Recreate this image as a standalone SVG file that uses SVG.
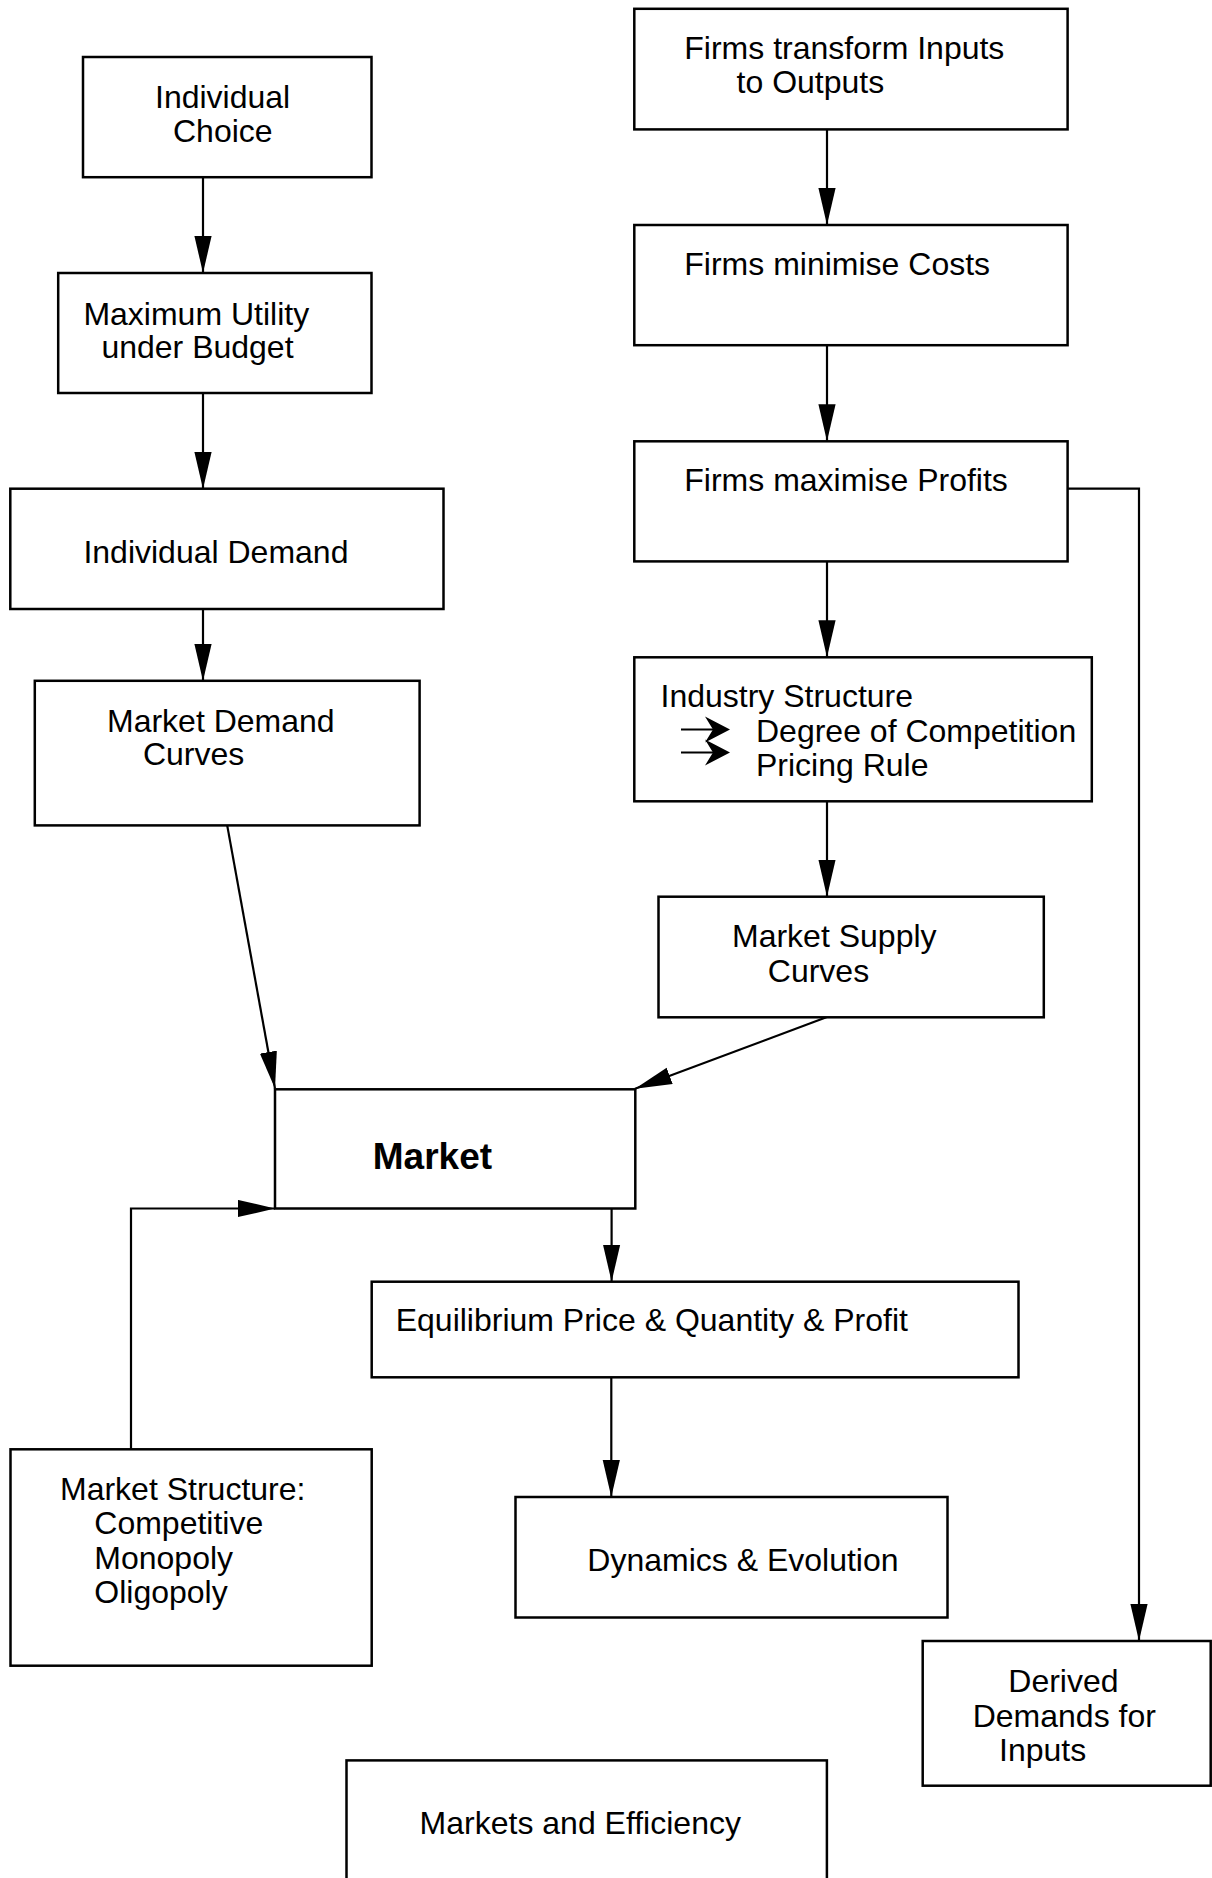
<svg xmlns="http://www.w3.org/2000/svg" width="1212" height="1878" viewBox="0 0 1212 1878">
<style>
.box{fill:#fff;stroke:#000;stroke-width:2.5}
.t{font-family:"Liberation Sans",Arial,sans-serif;font-size:32px;fill:#000}
.b{font-family:"Liberation Sans",Arial,sans-serif;font-size:37px;font-weight:bold;fill:#000}
.c{fill:none;stroke:#000;stroke-width:2.2}
</style>
<defs>
<marker id="ah" markerUnits="userSpaceOnUse" markerWidth="38" markerHeight="18" viewBox="0 0 38 18" refX="37" refY="9" orient="auto">
<path d="M0,0.4 L37,9 L0,17.6 z" fill="#000"/>
</marker>
</defs>
<rect width="1212" height="1878" fill="#fff"/>
<g id="connectors">
<path class="c" marker-end="url(#ah)" d="M203,177 V273"/>
<path class="c" marker-end="url(#ah)" d="M203,393 V489"/>
<path class="c" marker-end="url(#ah)" d="M203,609 V681"/>
<path class="c" marker-end="url(#ah)" d="M227.2,825.4 L275,1088.5"/>
<path class="c" marker-end="url(#ah)" d="M826.4,1017.3 L635,1088.8"/>
<path class="c" marker-end="url(#ah)" d="M131,1449 V1208.5 H275"/>
<path class="c" marker-end="url(#ah)" d="M611.6,1208.5 V1281.7"/>
<path class="c" marker-end="url(#ah)" d="M611.3,1377 V1497"/>
<path class="c" marker-end="url(#ah)" d="M827,129.4 V225"/>
<path class="c" marker-end="url(#ah)" d="M827,345.2 V441.3"/>
<path class="c" marker-end="url(#ah)" d="M827,561.4 V657.3"/>
<path class="c" marker-end="url(#ah)" d="M827,801.3 V896.7"/>
<path class="c" marker-end="url(#ah)" d="M1068,488.7 H1139 V1641"/>
</g>
<g id="individual-choice">
<rect class="box" x="83" y="57" width="288.5" height="120.2"/>
<text class="t" x="155" y="108">Individual</text>
<text class="t" x="173" y="141.6">Choice</text>
</g>
<g id="max-utility">
<rect class="box" x="58.2" y="273" width="313.3" height="120"/>
<text class="t" x="83.4" y="324.5">Maximum Utility</text>
<text class="t" x="101.4" y="357.8">under Budget</text>
</g>
<g id="individual-demand">
<rect class="box" x="10.3" y="488.7" width="433.2" height="120.3"/>
<text class="t" x="83.4" y="563.3">Individual Demand</text>
</g>
<g id="market-demand">
<rect class="box" x="34.8" y="680.8" width="384.8" height="144.6"/>
<text class="t" x="107" y="731.7">Market Demand</text>
<text class="t" x="142.9" y="765.2">Curves</text>
</g>
<g id="firms-transform">
<rect class="box" x="634.3" y="8.8" width="433.3" height="120.6"/>
<text class="t" x="684.3" y="59.3">Firms transform Inputs</text>
<text class="t" x="736.6" y="93">to Outputs</text>
</g>
<g id="firms-minimise">
<rect class="box" x="634.3" y="225" width="433.3" height="120.2"/>
<text class="t" x="684.3" y="274.8">Firms minimise Costs</text>
</g>
<g id="firms-maximise">
<rect class="box" x="634.3" y="441.3" width="433.3" height="120.1"/>
<text class="t" x="684.3" y="491">Firms maximise Profits</text>
</g>
<g id="industry-structure">
<rect class="box" x="634.3" y="657.3" width="457.5" height="144"/>
<text class="t" x="660.5" y="707.3">Industry Structure</text>
<text class="t" x="756" y="741.7">Degree of Competition</text>
<text class="t" x="756" y="775.7">Pricing Rule</text>
<path d="M681,729.5 H718 M681,752.5 H718" stroke="#000" stroke-width="2.2" fill="none"/>
<path d="M705,716.5 L730,729.5 L705,742.5 L713,729.5 z M705,739.5 L730,752.5 L705,765.5 L713,752.5 z" fill="#000"/>
</g>
<g id="market-supply">
<rect class="box" x="658.5" y="896.7" width="385.3" height="120.6"/>
<text class="t" x="732" y="946.7">Market Supply</text>
<text class="t" x="767.8" y="981.7">Curves</text>
</g>
<g id="market">
<rect class="box" x="275" y="1089.3" width="360.3" height="119.2"/>
<text class="b" x="372.8" y="1169.2">Market</text>
</g>
<g id="equilibrium">
<rect class="box" x="371.7" y="1281.7" width="646.8" height="95.6"/>
<text class="t" x="395.7" y="1331.3">Equilibrium Price &amp; Quantity &amp; Profit</text>
</g>
<g id="market-structure">
<rect class="box" x="10.5" y="1449.3" width="361.2" height="216.4"/>
<text class="t" x="60" y="1500">Market Structure:</text>
<text class="t" x="94.3" y="1534">Competitive</text>
<text class="t" x="94.3" y="1569.3">Monopoly</text>
<text class="t" x="94.3" y="1603.3">Oligopoly</text>
</g>
<g id="dynamics">
<rect class="box" x="515.5" y="1497" width="432" height="120.5"/>
<text class="t" x="587.3" y="1570.7">Dynamics &amp; Evolution</text>
</g>
<g id="derived-demands">
<rect class="box" x="922.7" y="1641" width="288" height="144.7"/>
<text class="t" x="1008.3" y="1691.7">Derived</text>
<text class="t" x="972.7" y="1726.7">Demands for</text>
<text class="t" x="999" y="1761">Inputs</text>
</g>
<g id="markets-efficiency">
<rect class="box" x="346.5" y="1760.4" width="480.4" height="140"/>
<text class="t" x="419.6" y="1834.1">Markets and Efficiency</text>
</g>
</svg>
